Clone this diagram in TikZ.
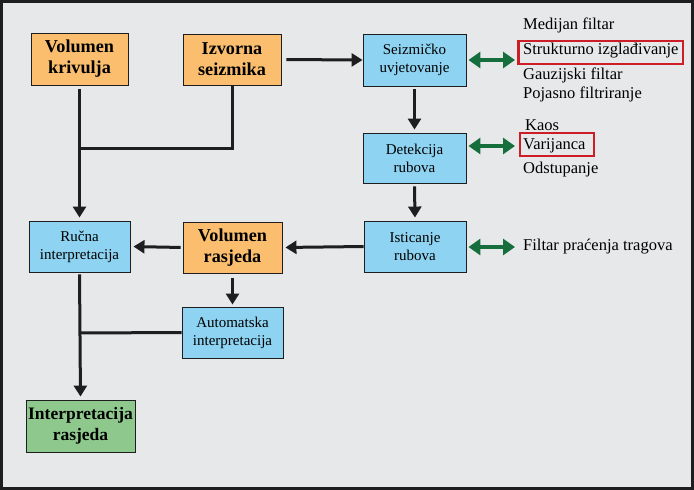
\documentclass[tikz,border=0pt]{standalone}
\usepackage{fontspec}
\setmainfont{Liberation Serif}
\usetikzlibrary{arrows.meta}
\definecolor{bgc}{RGB}{231,232,234}
\definecolor{orangec}{RGB}{250,190,110}
\definecolor{bluec}{RGB}{142,212,242}
\definecolor{greenc}{RGB}{142,200,140}
\definecolor{arrowgreen}{RGB}{22,110,60}
\definecolor{redc}{RGB}{205,30,40}
\definecolor{linec}{RGB}{30,30,32}
\tikzset{
  box/.style={draw=linec, line width=0.9pt, inner sep=0pt, align=center, anchor=center},
  obox/.style={box, fill=orangec, font=\fontsize{18.2}{21}\selectfont\bfseries},
  bbox/.style={box, fill=bluec, font=\fontsize{15}{18}\selectfont},
  gbox/.style={box, fill=greenc, font=\fontsize{17.5}{21}\selectfont\bfseries},
  flow/.style={draw=linec, line width=3pt, -{Triangle[length=11pt,width=13pt]}},
  plain/.style={draw=linec, line width=3pt},
  garrow/.style={draw=arrowgreen, line width=4pt, {Triangle[length=12pt,width=16pt]}-{Triangle[length=12pt,width=16pt]}, shorten <=2pt, shorten >=8pt},
  lbl/.style={anchor=west, inner sep=0pt, font=\fontsize{16.5}{20}\selectfont},
  redbox/.style={draw=redc, line width=2.5pt, fill=none}
}
\begin{document}
\begin{tikzpicture}[x=1pt,y=-1pt]
\useasboundingbox (0,0) rectangle (694,490);
\fill[bgc] (0,0) rectangle (694,490);
\draw[linec, line width=3pt] (1.5,1.5) rectangle (692.5,488.5);

% boxes
\node[obox, minimum width=97pt, minimum height=52pt] (vk) at (79.5,59) {Volumen\\krivulja};
\node[obox, minimum width=98pt, minimum height=51pt] (iz) at (232,59.5) {Izvorna\\seizmika};
\node[bbox, minimum width=103pt, minimum height=52pt] (su) at (414.5,60) {Seizmičko\\uvjetovanje};
\node[bbox, minimum width=103pt, minimum height=50pt] (dr) at (414.5,158) {Detekcija\\rubova};
\node[bbox, minimum width=102pt, minimum height=51pt] (ir) at (415,246.5) {Isticanje\\rubova};
\node[bbox, minimum width=101pt, minimum height=51pt] (ri) at (79.5,246.5) {Ručna\\interpretacija};
\node[obox, minimum width=99pt, minimum height=51pt] (vr) at (232.5,247.5) {Volumen\\rasjeda};
\node[bbox, minimum width=101pt, minimum height=51pt] (ai) at (232.5,332.5) {Automatska\\interpretacija};
\node[gbox, minimum width=109pt, minimum height=52pt] (rs) at (80.5,426) {Interpretacija\\rasjeda};

% junction coordinates
\coordinate (j1) at (79.5,148);
\coordinate (j2) at (79.5,333);

% connectors
\draw[plain] (iz.south) |- (j1);
\draw[flow, shorten <=4pt, shorten >=3pt] (vk.south) -- (ri.north);
\draw[flow, shorten <=5pt] (iz.east) -- (su.west);
\draw[flow, shorten <=3pt, shorten >=3pt] (su.south) -- (dr.north);
\draw[flow, shorten <=3pt, shorten >=3pt] (dr.south) -- (ir.north);
\draw[flow, shorten >=3pt] (ir.west) -- (vr.east);
\draw[flow, shorten <=2pt, shorten >=3pt] (vr.west) -- (ri.east);
\draw[flow, shorten <=5pt, shorten >=2pt] (vr.south) -- (ai.north);
\draw[plain] (ai.west) -- (j2);
\draw[flow, shorten <=2pt, shorten >=3pt] (ri.south) -- (rs.north);

% right labels
\node[lbl] (t1) at (523,25) {Medijan filtar};
\node[lbl] (t2) at (523,51) {Strukturno izglađivanje};
\node[lbl] (t3) at (523,75) {Gauzijski filtar};
\node[lbl] (t4) at (523,94) {Pojasno filtriranje};
\node[lbl] (t5) at (525,125) {Kaos};
\node[lbl] (t6) at (523,146) {Varijanca};
\node[lbl] (t7) at (523,170) {Odstupanje};
\node[lbl] (t8) at (523,247) {Filtar praćenja tragova};

\draw[redbox] (518.5,41) rectangle (683,64);
\draw[redbox] (520,133) rectangle (594,156);

% green double arrows
\draw[garrow] (su.east) -- (su.east -| t2.west);
\draw[garrow] (dr.east |- t6.west) -- (t6.west);
\draw[garrow] (ir.east |- t8.west) -- (t8.west);
\end{tikzpicture}
\end{document}
